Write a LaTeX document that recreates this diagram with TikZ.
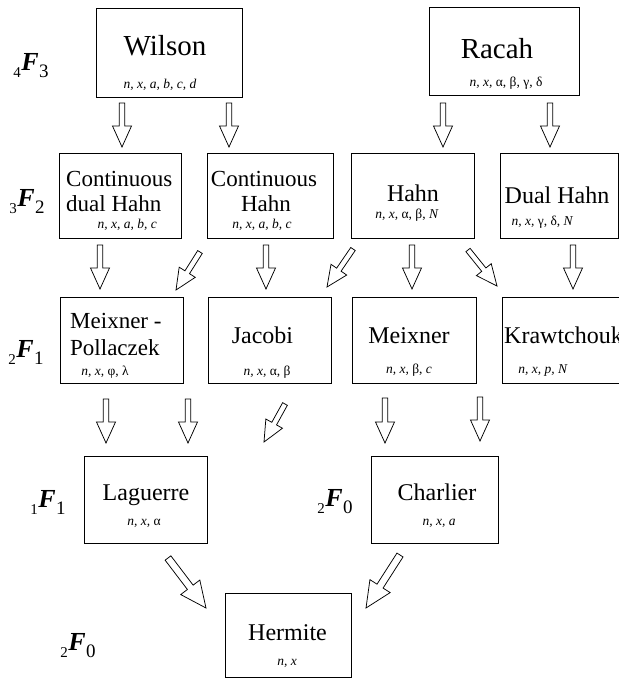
\documentclass[tikz,border=0pt]{standalone}
\usepackage{fontspec}
\setmainfont{Liberation Serif}
\usetikzlibrary{calc}
\tikzset{
  box/.style={draw, line width=0.9pt, inner sep=0pt},
  bigname/.style={anchor=base, inner sep=0pt, font=\fontsize{29}{32}\selectfont},
  pname/.style={anchor=base, inner sep=0pt, font=\fontsize{24}{27}\selectfont},
  pars/.style={anchor=base, inner sep=0pt, font=\fontsize{13.5}{15}\selectfont},
  flab/.style={inner sep=0pt},
  barrow/.style={draw, line width=0.75pt, fill=white, line join=miter},
}
\newcommand\hyp[2]{\raisebox{-7pt}{\fontsize{15}{15}\selectfont #1}\kern0.5pt{\fontsize{26}{26}\selectfont\bfseries\itshape F}\kern0.5pt\raisebox{-7pt}{\fontsize{19}{19}\selectfont #2}}
\newcommand\barr[5]{%
  \coordinate (bm) at ($(#2)!#5!(#1)$);
  \draw[barrow] ($(#1)!#3!90:(#2)$) -- ($(bm)!#3!90:(#2)$) -- ($(bm)!#4!90:(#2)$) -- (#2)
    -- ($(bm)!#4!-90:(#2)$) -- ($(bm)!#3!-90:(#2)$) -- ($(#1)!#3!-90:(#2)$) -- cycle;
}
\begin{document}
\begin{tikzpicture}[x=1pt,y=-1pt]
\useasboundingbox (0,0) rectangle (619,678);
\clip (0,0) rectangle (619,678);
% boxes
\node[box, minimum width=146pt, minimum height=89pt] (wilson) at (169,52.5) {};
\node[box, minimum width=150pt, minimum height=88pt] (racah) at (504,51) {};
\node[box, minimum width=122pt, minimum height=85pt] (cdh) at (120,195.5) {};
\node[box, minimum width=126pt, minimum height=85pt] (ch) at (270,195.5) {};
\node[box, minimum width=123pt, minimum height=85pt] (hahn) at (412.5,195.5) {};
\node[box, minimum width=118pt, minimum height=85pt] (dh) at (559,195.5) {};
\node[box, minimum width=123pt, minimum height=86pt] (mp) at (121.5,340) {};
\node[box, minimum width=123pt, minimum height=86pt] (jac) at (269.5,340) {};
\node[box, minimum width=124pt, minimum height=86pt] (mei) at (414,340) {};
\node[box, minimum width=130pt, minimum height=86pt] (kra) at (567,340) {};
\node[box, minimum width=123pt, minimum height=87pt] (lag) at (145.5,499.5) {};
\node[box, minimum width=127pt, minimum height=87pt] (cha) at (434.5,499.5) {};
\node[box, minimum width=126pt, minimum height=84pt] (her) at (288,635) {};
% names
\node[bigname] (wilsonT) at (165,55) {Wilson};
\node[bigname] (racahT) at (497,58) {Racah};
\node[pname, font=\fontsize{23}{27}\selectfont, anchor=base west] (cdhT1) at (66,186) {Continuous};
\node[pname, font=\fontsize{23}{27}\selectfont, anchor=base west] (cdhT2) at (66,211) {dual Hahn};
\node[pname, font=\fontsize{23}{27}\selectfont] (chT1) at (264,186) {Continuous};
\node[pname, font=\fontsize{23}{27}\selectfont] (chT2) at (266,211) {Hahn};
\node[pname] (hahnT) at (413,201) {Hahn};
\node[pname] (dhT) at (557,203) {Dual Hahn};
\node[pname, font=\fontsize{23}{27}\selectfont, anchor=base west] (mpT1) at (70,328) {Meixner -};
\node[pname, font=\fontsize{23}{27}\selectfont, anchor=base west] (mpT2) at (70,355) {Pollaczek};
\node[pname] (jacT) at (262.5,343) {Jacobi};
\node[pname] (meiT) at (409,343) {Meixner};
\node[pname, anchor=base west] (kraT) at (504,343) {Krawtchouk};
\node[pname] (lagT) at (146,500) {Laguerre};
\node[pname] (chaT) at (437,500) {Charlier};
\node[pname] (herT) at (287.5,640) {Hermite};
% parameters
\node[pars] (wilsonP) at (160,88) {\textit{n, x, a, b, c, d}};
\node[pars] (racahP) at (506,86) {\textit{n, x,} α, β, γ, δ};
\node[pars, anchor=base east] (cdhP) at (157,228) {\textit{n, x, a, b, c}};
\node[pars] (chP) at (262,228) {\textit{n, x, a, b, c}};
\node[pars] (hahnP) at (407,218) {\textit{n, x,} α, β, \textit{N}};
\node[pars] (dhP) at (542.5,225) {\textit{n, x,} γ, δ, \textit{N}};
\node[pars] (mpP) at (105,375) {\textit{n, x,} φ, λ};
\node[pars] (jacP) at (267,375) {\textit{n, x,} α, β};
\node[pars] (meiP) at (409,373) {\textit{n, x,} β, \textit{c}};
\node[pars] (kraP) at (543,373) {\textit{n, x, p, N}};
\node[pars] (lagP) at (144,525) {\textit{n, x,} α};
\node[pars] (chaP) at (439,525) {\textit{n, x, a}};
\node[pars] (herP) at (287,665) {\textit{n, x}};
% row labels
\node[flab] (f43) at (31,66) {\hyp{4}{3}};
\node[flab] (f32) at (27,202) {\hyp{3}{2}};
\node[flab] (f21) at (26,352) {\hyp{2}{1}};
\node[flab] (f11) at (48,502) {\hyp{1}{1}};
\node[flab] (f20a) at (335,502) {\hyp{2}{0}};
\node[flab] (f20b) at (78,646) {\hyp{2}{0}};
% arrow end points
\coordinate (a1s) at (122,103);  \coordinate (a1e) at (122,147);
\coordinate (a2s) at (229,103);  \coordinate (a2e) at (229,147);
\coordinate (a3s) at (443,103);  \coordinate (a3e) at (443,147);
\coordinate (a4s) at (550,103);  \coordinate (a4e) at (550,147);
\coordinate (a5s) at (100,245);  \coordinate (a5e) at (100,289);
\coordinate (a6s) at (200,252);  \coordinate (a6e) at (176,290);
\coordinate (a7s) at (266,245);  \coordinate (a7e) at (266,289);
\coordinate (a8s) at (353,249);  \coordinate (a8e) at (327,287);
\coordinate (a9s) at (412,245);  \coordinate (a9e) at (412,289);
\coordinate (a10s) at (468,250); \coordinate (a10e) at (497,286);
\coordinate (a11s) at (573,245); \coordinate (a11e) at (573,289);
\coordinate (a12s) at (106,399); \coordinate (a12e) at (106,443);
\coordinate (a13s) at (188,399); \coordinate (a13e) at (188,443);
\coordinate (a14s) at (285,404); \coordinate (a14e) at (264,442);
\coordinate (a15s) at (385,398); \coordinate (a15e) at (385,443);
\coordinate (a16s) at (480,397); \coordinate (a16e) at (480,441);
\coordinate (a17s) at (168,558); \coordinate (a17e) at (206,608);
\coordinate (a18s) at (400,555); \coordinate (a18e) at (366,608);
% arrows
\foreach \i in {1,2,3,4,5,6,7,8,9,10,11,12,13,14,15,16}{
  \barr{a\i s}{a\i e}{2.7pt}{9.5pt}{21pt}
}
\barr{a17s}{a17e}{3.6pt}{12pt}{26pt}
\barr{a18s}{a18e}{3.6pt}{12pt}{26pt}
\end{tikzpicture}
\end{document}
